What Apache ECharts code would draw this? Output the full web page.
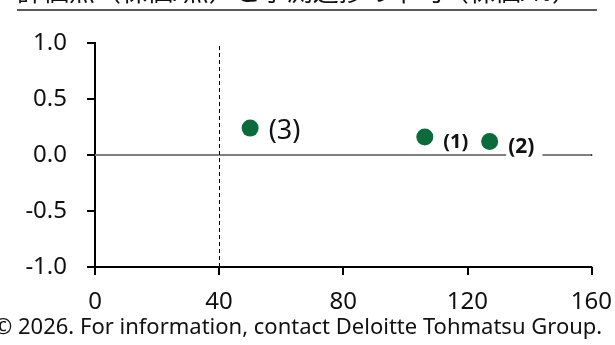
<!DOCTYPE html>
<html><head><meta charset="utf-8">
<script src="https://cdn.jsdelivr.net/npm/echarts@6/dist/echarts.min.js"></script>
<style>html,body{margin:0;padding:0;background:#fff}#c{width:615px;height:345px}</style>
</head><body><div id="c"></div>
<script>
const pointNames = ['(1)', '(2)', '(3)'];
const xValues = [106.3, 127.2, 50];
const yValues = [0.16, 0.12, 0.24];
const xTicks = [0, 40, 80, 120, 160];
const yTicks = [-1.0, -0.5, 0.0, 0.5, 1.0];
const refX = 40;
const titleText = '評価点（株価/点）と予測進捗の平均（株価/%）';
const footerText = '© 2026. For information, contact Deloitte Tohmatsu Group.';

const FONT = '"Noto Sans", "Noto Sans CJK JP", sans-serif';
const chart = echarts.init(document.getElementById('c'), null, {renderer: 'canvas'});

const labelStyles = [
  {fontSize: 20, fontWeight: 'bold', color: '#111', padding: [0, 0, 0, 2], offset: [0, 5]},
  {fontSize: 21, fontWeight: 'bold', color: '#111', backgroundColor: '#fff', padding: [3, 8, 3, 2], offset: [0, 5]},
  {fontSize: 27, fontWeight: 'normal', color: '#111', padding: [0, 0, 0, 2], offset: [0, 3]}
];

const data = pointNames.map((n, i) => ({
  value: [xValues[i], yValues[i]],
  name: n,
  label: Object.assign({show: true, position: 'right', distance: 8, formatter: n, fontFamily: FONT}, labelStyles[i])
}));

chart.setOption({
  animation: false,
  grid: {left: 95, right: 23, top: 43, bottom: 78},
  xAxis: [{
    type: 'value', min: 0, max: 160, interval: 40,
    axisLine: {show: true, onZero: false, lineStyle: {color: '#000', width: 2}},
    axisTick: {show: true, length: 8, lineStyle: {color: '#000', width: 2}},
    axisLabel: {fontSize: 24, color: '#111', fontFamily: FONT, margin: 23},
    splitLine: {show: false}
  }, {
    type: 'value', min: 0, max: 160, position: 'top',
    axisLine: {show: true, lineStyle: {color: '#000', width: 2}},
    axisTick: {show: false}, axisLabel: {show: false}, splitLine: {show: false}
  }],
  yAxis: [{
    type: 'value', min: -1, max: 1, interval: 0.5,
    axisLine: {show: true, onZero: false, lineStyle: {color: '#000', width: 2}},
    axisTick: {show: true, length: 8, lineStyle: {color: '#000', width: 2}},
    axisLabel: {fontSize: 24, color: '#111', fontFamily: FONT, margin: 28, formatter: v => v.toFixed(1)},
    splitLine: {show: false}
  }, {
    type: 'value', min: -1, max: 1, position: 'right',
    axisLine: {show: true, lineStyle: {color: '#000', width: 2}},
    axisTick: {show: false}, axisLabel: {show: false}, splitLine: {show: false}
  }],
  series: [{
    type: 'scatter', data: [], z: 1,
    markLine: {
      silent: true, symbol: 'none', label: {show: false},
      data: [
        {yAxis: 0, lineStyle: {color: '#808080', width: 2, type: 'solid'}},
        {xAxis: refX, lineStyle: {color: '#000', width: 1, type: [4, 3]}}
      ]
    }
  }, {
    type: 'scatter', z: 5, symbolSize: 17,
    itemStyle: {color: '#0b6b3a', opacity: 1},
    data: data
  }],
  graphic: [
    {type: 'text', left: 17, top: -19, style: {text: titleText, font: '26px ' + FONT, fill: '#111'}},
    {type: 'line', shape: {x1: 17, y1: 10, x2: 597, y2: 10}, style: {stroke: '#222', lineWidth: 1.5}},
    {type: 'text', left: -6, top: 317, style: {text: footerText, font: '22px ' + FONT, fill: '#111'}}
  ]
});
</script></body></html>
